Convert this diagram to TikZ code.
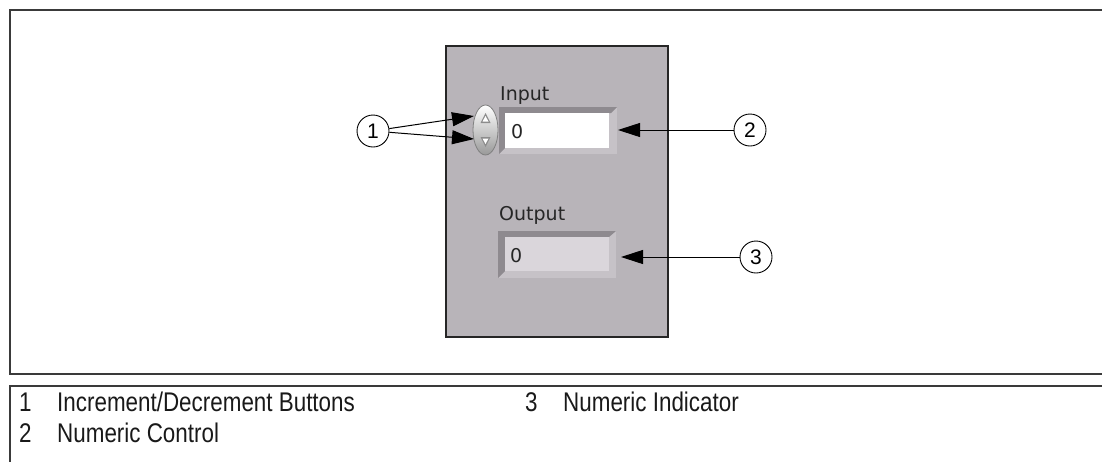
\documentclass[tikz,border=0pt]{standalone}
\usepackage{fontspec}
\setmainfont{Liberation Sans}
\newfontfamily\uifont{DejaVu Sans}
\newfontfamily\legendfont[FakeStretch=0.83]{Liberation Sans}
\usetikzlibrary{arrows.meta}
\definecolor{panelgray}{HTML}{B8B4B9}
\definecolor{fieldframe}{HTML}{A29EA3}
\definecolor{fielddark}{HTML}{8E8A8F}
\definecolor{fieldlight}{HTML}{C6C2C7}
\definecolor{indfill}{HTML}{DAD6DB}
\definecolor{framegray}{HTML}{3A3A3A}
\tikzset{
  frameline/.style={draw=framegray, line width=2pt},
  callout/.style={circle, draw=black, line width=0.9pt, fill=white, minimum size=32pt, inner sep=0pt, font=\fontsize{21}{21}\selectfont},
  pointer/.style={draw=black, line width=1pt, -{Triangle[length=22pt,width=14pt]}},
  uilabel/.style={anchor=base west, inner sep=0pt, font=\uifont\fontsize{19}{19}\selectfont, text=black!85},
  legendtext/.style={anchor=base west, inner sep=0pt, font=\legendfont\fontsize{27}{27}\selectfont, text=black!90}
}
\begin{document}
\begin{tikzpicture}[x=1pt,y=-1pt]
\useasboundingbox (0,0) rectangle (1102,461);
% outer frames
\draw[frameline] (1110,10) -- (10,10) -- (10,374) -- (1110,374);
\draw[frameline] (1110,386) -- (10,386) -- (10,470);
% front panel
\filldraw[fill=panelgray, draw=black!85, line width=2pt] (446,46) rectangle (668,337);
% input control (bevelled frame)
\fill[fieldlight] (499,107) rectangle (617,154);
\fill[fielddark] (499,107) -- (617,107) -- (611,113) -- (505,113) -- (505,148) -- (499,154) -- cycle;
\fill[white] (505,113) rectangle (609,148);
\node[uilabel] (inlbl) at (500,100) {Input};
\node[uilabel] (inval) at (511,138) {0};
% spinner
\shade[top color=white, bottom color=black!40, draw=black!50, line width=0.8pt] (485.5,130) ellipse (12.5 and 25);
\fill[black!45] (485.5,113) -- (480.5,123) -- (490.5,123) -- cycle;
\fill[white] (485.5,116) -- (482.5,121.5) -- (488.5,121.5) -- cycle;
\fill[black!45] (485.5,147) -- (480.5,137) -- (490.5,137) -- cycle;
\fill[white] (485.5,144) -- (482.5,138.5) -- (488.5,138.5) -- cycle;
% output indicator (bevelled frame)
\fill[fieldlight] (498,231) rectangle (616,278);
\fill[fielddark] (498,231) -- (616,231) -- (609,237) -- (505,237) -- (505,271) -- (498,278) -- cycle;
\fill[indfill] (505,237) rectangle (609,271);
\node[uilabel] (outlbl) at (499,220) {Output};
\node[uilabel] (outval) at (510,262) {0};
% callouts
\node[callout] (c1) at (373,131) {1};
\node[callout] (c2) at (750,130) {2};
\node[callout] (c3) at (756,257) {3};
\coordinate (t1) at (474,116);
\coordinate (t2) at (474,139);
\coordinate (t3) at (618,130);
\coordinate (t4) at (621,257);
\draw[pointer] (c1) -- (t1);
\draw[pointer] (c1) -- (t2);
\draw[pointer] (c2) -- (t3);
\draw[pointer] (c3) -- (t4);
% legend
\node[legendtext] (n1) at (19,411) {1};
\node[legendtext] (l1) at (57,411) {Increment/Decrement Buttons};
\node[legendtext] (n2) at (19,442) {2};
\node[legendtext] (l2) at (57,442) {Numeric Control};
\node[legendtext] (n3) at (525,411) {3};
\node[legendtext] (l3) at (563,411) {Numeric Indicator};
\end{tikzpicture}
\end{document}
